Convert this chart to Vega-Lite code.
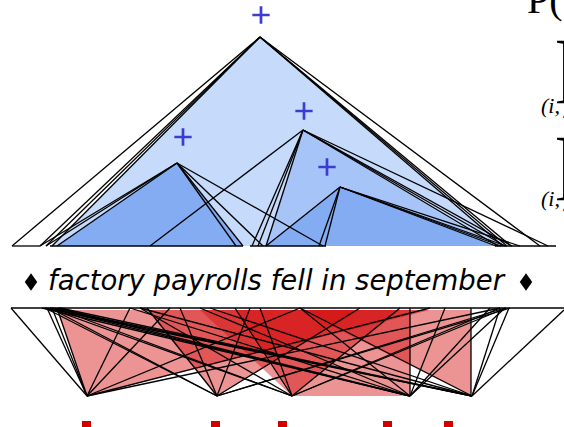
{
  "$schema": "https://vega.github.io/schema/vega-lite/v6.json",
  "width": 564,
  "height": 427,
  "autosize": "none",
  "padding": 0,
  "background": "white",
  "config": {"view": {"stroke": null}},
  "datasets": {
    "blue": [
      {"shape": "big", "x": 52, "y": 246, "y2": 246},
      {"shape": "big", "x": 260, "y": 37, "y2": 246},
      {"shape": "big", "x": 505, "y": 246, "y2": 246},
      {"shape": "mid", "x": 265, "y": 246, "y2": 246},
      {"shape": "mid", "x": 303, "y": 130, "y2": 246},
      {"shape": "mid", "x": 495, "y": 246, "y2": 246},
      {"shape": "left", "x": 57, "y": 246, "y2": 246},
      {"shape": "left", "x": 177, "y": 163, "y2": 246},
      {"shape": "left", "x": 242, "y": 246, "y2": 246},
      {"shape": "right", "x": 265, "y": 246, "y2": 246},
      {"shape": "right", "x": 340, "y": 187, "y2": 246},
      {"shape": "right", "x": 495, "y": 246, "y2": 246}
    ],
    "red": [
      {"shape": "r1", "x": 57, "y": 310, "y2": 310},
      {"shape": "r1", "x": 87, "y": 310, "y2": 396},
      {"shape": "r1", "x": 430, "y": 310, "y2": 310},
      {"shape": "r2", "x": 147, "y": 310, "y2": 310},
      {"shape": "r2", "x": 217, "y": 310, "y2": 396},
      {"shape": "r2", "x": 360, "y": 310, "y2": 310},
      {"shape": "r3", "x": 235, "y": 310, "y2": 310},
      {"shape": "r3", "x": 292, "y": 310, "y2": 396},
      {"shape": "r3", "x": 400, "y": 310, "y2": 310},
      {"shape": "r4", "x": 200, "y": 310, "y2": 310},
      {"shape": "r4", "x": 292, "y": 310, "y2": 396},
      {"shape": "r4", "x": 410, "y": 310, "y2": 396},
      {"shape": "r5", "x": 300, "y": 310, "y2": 310},
      {"shape": "r5", "x": 471, "y": 310, "y2": 396}
    ],
    "edges": [
      {"x": 260, "y": 37, "x2": 12, "y2": 246},
      {"x": 260, "y": 37, "x2": 40, "y2": 246},
      {"x": 260, "y": 37, "x2": 46, "y2": 246},
      {"x": 260, "y": 37, "x2": 52, "y2": 246},
      {"x": 260, "y": 37, "x2": 503, "y2": 246},
      {"x": 260, "y": 37, "x2": 507, "y2": 246},
      {"x": 260, "y": 37, "x2": 511, "y2": 246},
      {"x": 260, "y": 37, "x2": 540, "y2": 246},
      {"x": 177, "y": 163, "x2": 40, "y2": 246},
      {"x": 177, "y": 163, "x2": 46, "y2": 246},
      {"x": 177, "y": 163, "x2": 57, "y2": 246},
      {"x": 177, "y": 163, "x2": 236, "y2": 246},
      {"x": 177, "y": 163, "x2": 243, "y2": 246},
      {"x": 177, "y": 163, "x2": 263, "y2": 246},
      {"x": 177, "y": 163, "x2": 323, "y2": 246},
      {"x": 303, "y": 130, "x2": 150, "y2": 246},
      {"x": 303, "y": 130, "x2": 252, "y2": 246},
      {"x": 303, "y": 130, "x2": 258, "y2": 246},
      {"x": 303, "y": 130, "x2": 266, "y2": 246},
      {"x": 303, "y": 130, "x2": 498, "y2": 246},
      {"x": 303, "y": 130, "x2": 505, "y2": 246},
      {"x": 303, "y": 130, "x2": 512, "y2": 246},
      {"x": 303, "y": 130, "x2": 548, "y2": 246},
      {"x": 340, "y": 187, "x2": 266, "y2": 246},
      {"x": 340, "y": 187, "x2": 319, "y2": 246},
      {"x": 340, "y": 187, "x2": 325, "y2": 246},
      {"x": 340, "y": 187, "x2": 496, "y2": 246},
      {"x": 340, "y": 187, "x2": 501, "y2": 246},
      {"x": 340, "y": 187, "x2": 506, "y2": 246},
      {"x": 340, "y": 187, "x2": 520, "y2": 246},
      {"x": 12, "y": 246, "x2": 40, "y2": 246},
      {"x": 50, "y": 246, "x2": 243, "y2": 246},
      {"x": 250, "y": 246, "x2": 326, "y2": 246},
      {"x": 495, "y": 246, "x2": 556, "y2": 246},
      {"x": 11, "y": 308, "x2": 564, "y2": 308},
      {"x": 11, "y": 308, "x2": 87, "y2": 396},
      {"x": 47, "y": 308, "x2": 87, "y2": 396},
      {"x": 52, "y": 308, "x2": 87, "y2": 396},
      {"x": 57, "y": 308, "x2": 87, "y2": 396},
      {"x": 130, "y": 308, "x2": 87, "y2": 396},
      {"x": 170, "y": 308, "x2": 87, "y2": 396},
      {"x": 300, "y": 308, "x2": 87, "y2": 396},
      {"x": 430, "y": 308, "x2": 87, "y2": 396},
      {"x": 500, "y": 308, "x2": 87, "y2": 396},
      {"x": 45, "y": 308, "x2": 217, "y2": 396},
      {"x": 50, "y": 308, "x2": 217, "y2": 396},
      {"x": 147, "y": 308, "x2": 217, "y2": 396},
      {"x": 180, "y": 308, "x2": 217, "y2": 396},
      {"x": 250, "y": 308, "x2": 217, "y2": 396},
      {"x": 360, "y": 308, "x2": 217, "y2": 396},
      {"x": 505, "y": 308, "x2": 217, "y2": 396},
      {"x": 510, "y": 308, "x2": 217, "y2": 396},
      {"x": 48, "y": 308, "x2": 292, "y2": 396},
      {"x": 55, "y": 308, "x2": 292, "y2": 396},
      {"x": 140, "y": 308, "x2": 292, "y2": 396},
      {"x": 235, "y": 308, "x2": 292, "y2": 396},
      {"x": 260, "y": 308, "x2": 292, "y2": 396},
      {"x": 400, "y": 308, "x2": 292, "y2": 396},
      {"x": 500, "y": 308, "x2": 292, "y2": 396},
      {"x": 506, "y": 308, "x2": 292, "y2": 396},
      {"x": 42, "y": 308, "x2": 410, "y2": 396},
      {"x": 50, "y": 308, "x2": 410, "y2": 396},
      {"x": 58, "y": 308, "x2": 410, "y2": 396},
      {"x": 130, "y": 308, "x2": 410, "y2": 396},
      {"x": 200, "y": 308, "x2": 410, "y2": 396},
      {"x": 300, "y": 308, "x2": 410, "y2": 396},
      {"x": 410, "y": 308, "x2": 410, "y2": 396},
      {"x": 445, "y": 308, "x2": 410, "y2": 396},
      {"x": 490, "y": 308, "x2": 410, "y2": 396},
      {"x": 505, "y": 308, "x2": 410, "y2": 396},
      {"x": 45, "y": 308, "x2": 472, "y2": 396},
      {"x": 52, "y": 308, "x2": 472, "y2": 396},
      {"x": 60, "y": 308, "x2": 472, "y2": 396},
      {"x": 140, "y": 308, "x2": 472, "y2": 396},
      {"x": 210, "y": 308, "x2": 472, "y2": 396},
      {"x": 300, "y": 308, "x2": 472, "y2": 396},
      {"x": 471, "y": 308, "x2": 471, "y2": 396},
      {"x": 500, "y": 308, "x2": 472, "y2": 396},
      {"x": 509, "y": 308, "x2": 472, "y2": 396},
      {"x": 564, "y": 310, "x2": 472, "y2": 396}
    ],
    "redmarks": [
      {"x": 82, "x2": 91, "y": 421, "y2": 432},
      {"x": 211, "x2": 220, "y": 421, "y2": 432},
      {"x": 278, "x2": 287, "y": 421, "y2": 432},
      {"x": 383, "x2": 392, "y": 421, "y2": 432},
      {"x": 444, "x2": 453, "y": 421, "y2": 432}
    ],
    "pluses": [
      {"x": 261, "y": 15},
      {"x": 183, "y": 137},
      {"x": 304, "y": 111},
      {"x": 327, "y": 167}
    ],
    "diamonds": [
      {"x": 31, "y": 282},
      {"x": 526, "y": 282}
    ],
    "labels": [
      {"role": "sentence", "text": "factory payrolls fell in september", "x": 276, "y": 290},
      {"role": "big", "text": "P(", "x": 527, "y": 13},
      {"role": "prod", "text": "∏", "x": 553, "y": 88},
      {"role": "prod", "text": "∏", "x": 553, "y": 185},
      {"role": "sub", "text": "(i, j)", "x": 541, "y": 113},
      {"role": "sub", "text": "(i, j)", "x": 541, "y": 206}
    ]
  },
  "encoding": {
    "x": {"field": "x", "type": "quantitative", "scale": {"domain": [0, 564], "nice": false, "zero": false}, "axis": null},
    "y": {"field": "y", "type": "quantitative", "scale": {"domain": [0, 427], "reverse": true, "nice": false, "zero": false}, "axis": null}
  },
  "layer": [
    {
      "data": {"name": "blue"},
      "transform": [{"filter": "datum.shape == 'big'"}],
      "mark": {"type": "area", "fill": "#c6dbfb", "opacity": 1},
      "encoding": {"y2": {"field": "y2"}}
    },
    {
      "data": {"name": "blue"},
      "transform": [{"filter": "datum.shape == 'mid'"}],
      "mark": {"type": "area", "fill": "#a6c4f7", "opacity": 1},
      "encoding": {"y2": {"field": "y2"}}
    },
    {
      "data": {"name": "blue"},
      "transform": [{"filter": "datum.shape == 'left' || datum.shape == 'right'"}],
      "mark": {"type": "area", "fill": "#84acf3", "opacity": 1},
      "encoding": {"y2": {"field": "y2"}, "detail": {"field": "shape"}}
    },
    {
      "data": {"name": "red"},
      "mark": {"type": "area", "fill": "#d41010", "opacity": 0.45},
      "encoding": {"y2": {"field": "y2"}, "detail": {"field": "shape"}}
    },
    {
      "data": {"name": "edges"},
      "mark": {"type": "rule", "color": "black", "strokeWidth": 1.3},
      "encoding": {"x2": {"field": "x2"}, "y2": {"field": "y2"}}
    },
    {
      "data": {"name": "redmarks"},
      "mark": {"type": "rect", "fill": "#d40000"},
      "encoding": {"x2": {"field": "x2"}, "y2": {"field": "y2"}}
    },
    {
      "data": {"name": "pluses"},
      "mark": {"type": "point", "shape": "M-1,0H1M0,-1V1", "filled": false, "stroke": "#3c3cd0", "strokeWidth": 2.7, "size": 300, "opacity": 1}
    },
    {
      "data": {"name": "diamonds"},
      "mark": {"type": "point", "shape": "M0,-1L0.72,0L0,1L-0.72,0Z", "filled": true, "fill": "black", "size": 300, "opacity": 1}
    },
    {
      "data": {"name": "labels"},
      "transform": [{"filter": "datum.role == 'sentence'"}],
      "mark": {"type": "text", "font": "DejaVu Sans", "fontStyle": "italic", "fontSize": 27.5, "align": "center", "baseline": "alphabetic", "color": "black"},
      "encoding": {"text": {"field": "text"}}
    },
    {
      "data": {"name": "labels"},
      "transform": [{"filter": "datum.role == 'big'"}],
      "mark": {"type": "text", "font": "Liberation Serif", "fontSize": 40, "align": "left", "baseline": "alphabetic", "color": "black"},
      "encoding": {"text": {"field": "text"}}
    },
    {
      "data": {"name": "labels"},
      "transform": [{"filter": "datum.role == 'prod'"}],
      "mark": {"type": "text", "font": "Liberation Serif", "fontSize": 72, "align": "left", "baseline": "alphabetic", "color": "black"},
      "encoding": {"text": {"field": "text"}}
    },
    {
      "data": {"name": "labels"},
      "transform": [{"filter": "datum.role == 'sub'"}],
      "mark": {"type": "text", "font": "Liberation Serif", "fontStyle": "italic", "fontSize": 22, "align": "left", "baseline": "alphabetic", "color": "black"},
      "encoding": {"text": {"field": "text"}}
    }
  ]
}
